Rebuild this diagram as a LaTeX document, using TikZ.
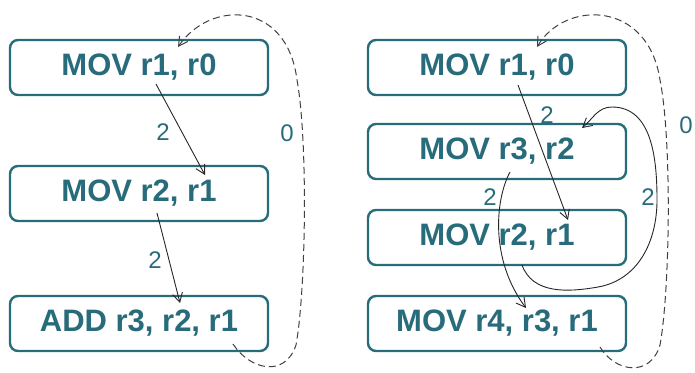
\documentclass[tikz,border=0pt]{standalone}
\usepackage{fontspec}
\setmainfont{Liberation Sans}
\usetikzlibrary{arrows.meta}
\definecolor{teal}{RGB}{40,108,124}
\tikzset{
  instr/.style={draw=teal, line width=2.4pt, rounded corners=8pt, fill=white,
    minimum width=258pt, minimum height=55pt, inner sep=0pt, text=teal,
    font=\fontsize{31}{33}\selectfont\bfseries},
  lat/.style={text=teal, font=\fontsize{24}{26}\selectfont},
  dep/.style={->, draw=black!85, line width=0.9pt},
  anti/.style={->, draw=black!75, line width=1pt, dash pattern=on 7pt off 4pt}
}
\begin{document}
\begin{tikzpicture}[x=1pt, y=1pt, >={Straight Barb[length=9pt,width=10pt]}]
\useasboundingbox (0,0) rectangle (695,-372);
\def\xl{139}
\def\xr{497}
% left block
\node[instr] (L1) at (\xl,-67.5)  {MOV r1, r0};
\node[instr] (L2) at (\xl,-193.5) {MOV r2, r1};
\node[instr] (L3) at (\xl,-323.5) {ADD r3, r2, r1};
% right block
\node[instr] (R1) at (\xr,-67.5)  {MOV r1, r0};
\node[instr] (R2) at (\xr,-151.5) {MOV r3, r2};
\node[instr] (R3) at (\xr,-237.5) {MOV r2, r1};
\node[instr] (R4) at (\xr,-323.5) {MOV r4, r3, r1};
% left edges
\draw[dep] ([xshift=17pt,yshift=-16.5pt]L1.center) -- ([xshift=66pt,yshift=18.5pt]L2.center);
\draw[dep] ([xshift=18pt,yshift=-19.5pt]L2.center) -- ([xshift=41pt,yshift=20.5pt]L3.center);
\draw[anti] ([xshift=94pt,yshift=-20.5pt]L3.center)
  .. controls (250,-370) and (285,-378) .. (296,-345)
  .. controls (306,-290) and (308,-140) .. (297,-80)
  .. controls (287,0) and (210,0) .. ([xshift=39pt,yshift=20.5pt]L1.center);
\node[lat] (l12) at (163,-132) {2};
\node[lat] (l23) at (155,-260) {2};
\node[lat] (l31) at (287,-133) {0};
% right edges
\draw[dep] ([xshift=21pt,yshift=-17.5pt]R1.center) -- ([xshift=71pt,yshift=17.5pt]R3.center);
\draw[dep] ([xshift=13pt,yshift=-20.5pt]R2.center)
  .. controls (495,-200) and (490,-260) .. ([xshift=29pt,yshift=15.5pt]R4.center);
\draw[dep] ([xshift=25pt,yshift=-27.5pt]R3.center)
  to[out=-70,in=190] (598,-287)
  to[out=10,in=-90] (657,-200)
  to[out=90,in=0] (612,-107)
  to[out=180,in=40] ([xshift=85pt,yshift=23.5pt]R2.center);
\draw[anti] ([xshift=103pt,yshift=-23.5pt]R4.center)
  .. controls (615,-372) and (650,-378) .. (660,-345)
  .. controls (670,-290) and (672,-140) .. (660,-80)
  .. controls (648,0) and (565,0) .. ([xshift=40pt,yshift=20.5pt]R1.center);
\node[lat] (r13) at (547,-115) {2};
\node[lat] (r24) at (490,-197) {2};
\node[lat] (r32) at (648,-197) {2};
\node[lat] (r41) at (686,-125) {0};
\end{tikzpicture}
\end{document}
